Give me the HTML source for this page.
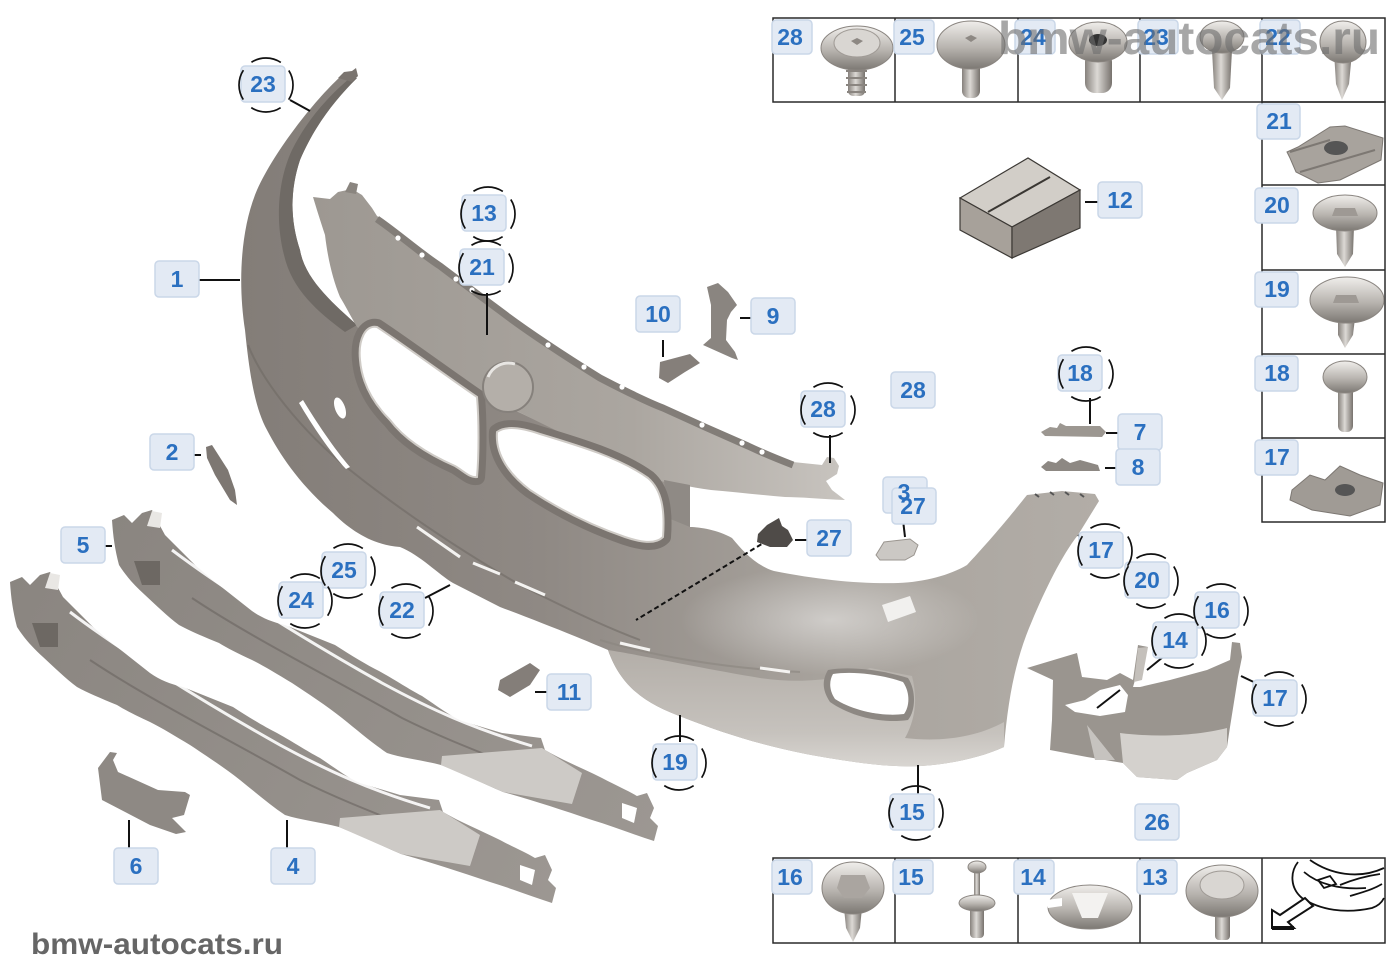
<!DOCTYPE html>
<html><head><meta charset="utf-8"><style>
html,body{margin:0;padding:0;background:#fff;}
svg{display:block}
.lb rect{fill:#e3eaf4;stroke:#cad7e8;stroke-width:1.5}
.lb text{font-family:"Liberation Sans",sans-serif;font-weight:700;font-size:23px;fill:#2b70c0;text-anchor:middle}
.ln{stroke:#111;stroke-width:2;fill:none}
.dc{fill:none;stroke:#111;stroke-width:1.7;stroke-dasharray:31 11.4;stroke-dashoffset:15.5}
.cell{fill:none;stroke:#2a2a2a;stroke-width:1.5}
</style></head><body>
<svg width="1400" height="980" viewBox="0 0 1400 980" xmlns="http://www.w3.org/2000/svg">
<defs>
<linearGradient id="gBody" gradientUnits="userSpaceOnUse" x1="240" y1="0" x2="1100" y2="0">
<stop offset="0" stop-color="#837d78"/><stop offset=".35" stop-color="#8f8984"/><stop offset=".7" stop-color="#a9a49e"/><stop offset="1" stop-color="#b2ada7"/></linearGradient>
<linearGradient id="gPanel" gradientUnits="userSpaceOnUse" x1="313" y1="0" x2="845" y2="0">
<stop offset="0" stop-color="#9d9892"/><stop offset=".6" stop-color="#aba6a0"/><stop offset="1" stop-color="#c8c4bf"/></linearGradient>
<linearGradient id="gLip" gradientUnits="userSpaceOnUse" x1="0" y1="650" x2="0" y2="768">
<stop offset="0" stop-color="#b3aea8"/><stop offset=".7" stop-color="#c6c2bd"/><stop offset="1" stop-color="#d9d6d2"/></linearGradient>
<linearGradient id="gCar" gradientUnits="userSpaceOnUse" x1="0" y1="580" x2="550" y2="900">
<stop offset="0" stop-color="#8a8580"/><stop offset="1" stop-color="#9c9792"/></linearGradient>
<radialGradient id="gHi" cx="0.5" cy="0.5" r="0.5"><stop offset="0" stop-color="#fff" stop-opacity=".45"/><stop offset="1" stop-color="#fff" stop-opacity="0"/></radialGradient>
<linearGradient id="met" x1="0" y1="0" x2="0" y2="1"><stop offset="0" stop-color="#f0eeeb"/><stop offset=".55" stop-color="#b8b4af"/><stop offset="1" stop-color="#7c7873"/></linearGradient>
<linearGradient id="shk" x1="0" y1="0" x2="1" y2="0"><stop offset="0" stop-color="#86817c"/><stop offset=".45" stop-color="#dcd9d5"/><stop offset="1" stop-color="#77726d"/></linearGradient>
</defs>
<rect width="1400" height="980" fill="#fff"/>

<!-- ========== MAIN BUMPER ========== -->
<path d="M340,77 C315,100 275,150 257,190 C240,230 238,285 245,330 C250,380 256,410 267,430 C280,455 300,485 333,513 C350,530 372,545 400,547 C420,555 438,574 453,583 L500,607 C540,622 580,638 608,650 C622,690 650,705 682,717 C720,732 760,745 806,754 C850,762 890,768 921,766 C950,764 980,758 1004,747 C1008,700 1015,660 1032,621 C1045,590 1062,555 1078,535 L1099,501 L1095,494 L1062,491 L1027,495 C1015,510 995,535 967,565 C950,575 925,582 898,583 C860,584 820,580 774,571 C755,565 742,550 732,538 C718,530 700,527 690,527 L689,490 L655,478 L600,450 L450,380 L357,325 C335,305 305,280 300,250 C290,220 290,190 300,160 C315,125 335,100 357,78 Z" fill="url(#gBody)"/>
<path d="M357,78 C335,100 315,125 300,160 C290,190 290,220 300,250 C305,280 335,305 357,325 L345,332 C318,312 292,290 284,255 C275,220 278,180 292,150 C308,118 330,95 350,78 Z" fill="#6f6a65"/>
<path d="M338,78 L344,72 L352,71 L356,68 L358,76 L352,82 Z" fill="#7a746f"/>
<path d="M608,650 C640,655 700,668 760,678 C800,684 840,680 870,668 L912,676 C918,700 915,720 905,738 C940,742 975,738 1004,722 L1004,747 C980,758 950,764 921,766 C890,768 850,762 806,754 C760,745 720,732 682,717 C650,705 622,690 608,650 Z" fill="url(#gLip)"/>
<ellipse cx="830" cy="620" rx="150" ry="55" fill="url(#gHi)"/>
<path d="M248,345 C262,380 300,430 350,470 C400,510 460,550 520,585 C560,605 600,625 640,640" fill="none" stroke="#6d6863" stroke-width="2" opacity=".55"/>
<path d="M600,640 C650,655 720,668 800,672" fill="none" stroke="#8a857f" stroke-width="2" opacity=".6"/>
<path d="M303,400 C315,420 335,450 350,467 L346,469 C330,452 312,425 299,403 Z" fill="#fff"/>
<ellipse cx="340" cy="408" rx="5" ry="11" transform="rotate(-20 340 408)" fill="#fff"/>
<path d="M417,527 L460,557 M473,563 L500,574 M515,582 L545,595 M620,643 L650,650 M760,668 L790,672" stroke="#f4f3f1" stroke-width="3" fill="none"/>
<path d="M828,670 C850,666 882,670 908,678 C916,690 916,710 908,720 C880,724 850,716 830,702 C822,690 822,680 828,670 Z" fill="#8d8883"/>
<path d="M833,674 C852,671 880,674 903,682 C910,692 910,706 904,714 C880,717 852,710 835,699 C829,690 829,681 833,674 Z" fill="#fff"/>
<path d="M882,605 L910,596 L916,612 L888,622 Z" fill="#f1f0ee"/>
<path d="M1035,494 l4,3 M1050,492 l4,3 M1065,492 l4,3 M1080,494 l4,3" stroke="#555" stroke-width="2"/>

<!-- ========== UPPER PANEL ========== -->
<path d="M313,197 L330,199 L338,192 L352,189 L362,195 L372,208 L377,216 C400,232 420,250 440,263 C465,282 487,298 507,313 C530,330 560,350 600,375 C625,388 645,398 663,405 C700,422 725,433 748,443 C765,451 780,457 793,462 L822,465 L827,457 L834,458 L839,466 L837,474 L826,481 L832,490 L845,500 C820,499 800,497 785,497 C760,495 735,492 711,490 C690,487 670,483 655,480 L600,452 L500,403 L400,356 L357,327 C350,315 345,305 340,297 C333,280 328,260 325,235 C320,220 316,207 313,197 Z" fill="url(#gPanel)"/>
<path d="M377,219 C400,235 420,253 440,266 C465,285 487,301 507,316 C530,333 560,353 600,378 C625,391 645,401 663,408 C700,425 725,436 748,446 C765,454 780,460 793,465" fill="none" stroke="#827d78" stroke-width="7"/>
<g fill="#fff"><circle cx="398" cy="238" r="2.6"/><circle cx="422" cy="255" r="2.6"/><circle cx="456" cy="279" r="2.6"/><circle cx="472" cy="290" r="2.6"/><circle cx="548" cy="345" r="2.6"/><circle cx="584" cy="367" r="2.6"/><circle cx="622" cy="387" r="2.6"/><circle cx="702" cy="425" r="2.6"/><circle cx="742" cy="443" r="2.6"/><circle cx="762" cy="452" r="2.6"/></g>
<path d="M345,192 L350,182 L358,184 L356,194 Z" fill="#8a857f"/>
<path d="M664,480 L690,485 L690,527 L668,518 Z" fill="#8f8a85"/>
<path d="M377,327 C400,342 445,375 477,397 C479,420 479,455 477,477 C470,478 465,472 455,466 C430,455 405,440 390,420 C375,405 362,385 360,360 C358,340 365,325 377,327 Z" fill="none" stroke="#7b7570" stroke-width="16" stroke-linejoin="round"/>
<path d="M377,327 C400,342 445,375 477,397 C479,420 479,455 477,477 C470,478 465,472 455,466 C430,455 405,440 390,420 C375,405 362,385 360,360 C358,340 365,325 377,327 Z" fill="#fff" stroke="#cfcbc6" stroke-width="2"/>
<path d="M497,432 C505,426 520,427 540,434 C580,446 620,458 648,478 C662,490 665,510 663,537 C655,545 640,542 625,537 C590,525 560,510 530,490 C510,475 495,455 497,432 Z" fill="none" stroke="#7b7570" stroke-width="16" stroke-linejoin="round"/>
<path d="M497,432 C505,426 520,427 540,434 C580,446 620,458 648,478 C662,490 665,510 663,537 C655,545 640,542 625,537 C590,525 560,510 530,490 C510,475 495,455 497,432 Z" fill="#fff" stroke="#cfcbc6" stroke-width="2"/>
<circle cx="508" cy="387" r="25" fill="#b4afa9" stroke="#86817c" stroke-width="2"/>
<path d="M488,377 A22,22 0 0 1 515,364" fill="none" stroke="#e8e6e3" stroke-width="3"/>
<path d="M775,536 L636,620" stroke="#111" stroke-width="2" stroke-dasharray="5 3"/>

<!-- ========== SMALL PARTS ========== -->
<path d="M206,447 L212,445 L228,470 L235,490 L237,505 L230,500 L215,475 L207,458 Z" fill="#7d7772"/>
<path d="M707,287 L718,283 L728,292 L737,305 L731,312 L727,320 L726,340 L735,352 L738,360 L732,358 L703,345 L711,338 L711,305 Z" fill="#8a8580"/>
<path d="M660,362 L675,358 L690,354 L700,363 L685,372 L668,383 L659,378 Z" fill="#857f7a"/>
<path d="M1041,432 L1050,427 L1057,428 L1060,423 L1066,426 L1100,426 L1106,432 L1102,437 L1045,436 Z" fill="#9c9791"/>
<path d="M1041,467 L1048,461 L1056,463 L1062,458 L1070,463 L1080,460 L1098,465 L1100,471 L1046,471 Z" fill="#8d8883"/>
<path d="M758,534 L767,525 L779,518 L782,526 L788,530 L793,540 L787,547 L770,547 L757,542 Z" fill="#4f4b48"/>
<path d="M876,555 L884,542 L910,539 L918,545 L914,555 L905,560 L880,560 Z" fill="#cbc8c4" stroke="#9a958f"/>
<path d="M500,680 L530,663 L540,670 L530,685 L510,697 L498,690 Z" fill="#847e79"/>
<path d="M960,198 L1028,158 L1080,190 L1012,227 Z" fill="#d2cec8" stroke="#3c3935" stroke-width="1.2"/>
<path d="M960,198 L1012,227 L1012,258 L960,230 Z" fill="#a7a19a" stroke="#3c3935" stroke-width="1.2"/>
<path d="M1012,227 L1080,190 L1080,228 L1012,258 Z" fill="#7e7872" stroke="#3c3935" stroke-width="1.2"/>
<path d="M988,212 L1050,177" stroke="#3a3733" stroke-width="2"/>
<path d="M98,768 L110,752 L117,753 L113,760 L118,772 L158,790 L185,792 L190,795 L184,815 L172,818 L186,832 L176,834 L150,825 L102,800 Z" fill="#8e8984"/>

<!-- ========== CARRIERS ========== -->
<g id="carrier">
<path d="M10,582 L22,577 L30,585 L40,575 L50,572 L57,586 L63,597 L93,627 C105,637 110,642 117,647 L150,673 C160,680 170,684 183,687 L233,707 C250,718 265,727 277,733 C295,743 305,750 320,758 C335,768 348,778 360,783 L400,795 L439,800 L443,812 C460,822 480,830 500,840 C515,848 525,852 535,858 L545,855 L552,870 L548,880 L556,888 L552,903 C530,896 510,888 490,882 C460,872 430,862 401,854 C380,845 360,835 339,827 C320,822 300,820 285,815 C270,805 255,792 240,780 C225,768 205,755 190,745 C175,736 162,728 150,722 C135,715 125,710 117,705 C100,698 88,693 77,687 C65,678 55,668 43,657 C32,647 24,638 17,627 C13,612 11,598 10,582 Z" fill="url(#gCar)"/>
<path d="M32,623 L58,623 L58,647 L40,647 Z" fill="#6d6863"/>
<path d="M45,588 L50,573 L60,575 L58,590 Z" fill="#e9e7e4"/>
<path d="M70,612 C120,650 200,700 280,745 C330,772 370,790 430,808" fill="none" stroke="#fff" stroke-width="3" opacity=".9"/>
<path d="M90,660 C150,700 230,740 300,780 C340,800 380,815 430,835" fill="none" stroke="#6f6a65" stroke-width="2" opacity=".7"/>
<path d="M340,818 L440,810 L480,835 L470,866 L401,854 L339,827 Z" fill="#cdcac6"/>
<path d="M520,865 L535,870 L532,885 L520,880 Z" fill="#fff"/>
</g>
<use href="#carrier" transform="translate(102,-62)"/>

<!-- ========== WHEEL ARCH BRACKET ========== -->
<path d="M1027,668 L1077,653 L1082,677 L1107,680 L1120,673 L1133,680 L1138,645 L1148,647 L1140,663 L1133,687 L1140,687 L1170,680 L1207,670 L1230,660 L1232,642 L1240,643 L1242,657 L1238,677 L1230,727 L1227,747 L1217,760 L1187,773 L1177,780 L1137,777 L1123,763 L1087,757 L1050,750 L1052,720 L1053,680 Z" fill="#9a958f"/>
<path d="M1120,733 C1160,738 1200,735 1227,728 L1227,747 L1217,760 L1187,773 L1177,780 L1137,777 L1123,763 Z" fill="#d4d1cd"/>
<path d="M1065,705 L1085,700 L1100,690 L1120,685 L1128,695 L1125,712 L1100,716 L1075,712 Z" fill="#fff"/>
<path d="M1087,725 L1095,760 L1115,760 Z" fill="#c6c3bf"/>
<path d="M1138,648 L1148,647 L1142,680 L1134,682 Z" fill="#c4c0bb"/>

<!-- ========== LEADER LINES ========== -->
<g class="ln">
<path d="M290,100 L310,111"/>
<path d="M180,280 L240,280"/>
<path d="M487,293 L487,335"/>
<path d="M663,340 L663,357"/>
<path d="M740,318 L757,318"/>
<path d="M830,435 L830,463"/>
<path d="M1090,398 L1090,424"/>
<path d="M1106,433 L1124,433"/>
<path d="M1105,468 L1122,468"/>
<path d="M1085,202 L1103,202"/>
<path d="M181,455 L201,455"/>
<path d="M903,520 L905,537"/>
<path d="M795,540 L815,540"/>
<path d="M90,546 L112,546"/>
<path d="M425,598 L450,585"/>
<path d="M1078,535 L1092,545"/>
<path d="M1241,676 L1262,686"/>
<path d="M1147,670 L1163,657"/>
<path d="M1097,708 L1120,690"/>
<path d="M535,692 L550,692"/>
<path d="M680,715 L680,742"/>
<path d="M918,765 L918,795"/>
<path d="M129,820 L129,848"/>
<path d="M287,820 L287,848"/>
</g>

<!-- ========== TABLES ========== -->
<rect x="773" y="18" width="612" height="84" class="cell"/>
<path d="M895,18 V102 M1018,18 V102 M1140,18 V102 M1262,18 V102" class="cell"/>
<rect x="1262" y="102" width="123" height="420" class="cell"/>
<path d="M1262,185 H1385 M1262,270 H1385 M1262,354 H1385 M1262,438 H1385" class="cell"/>
<rect x="773" y="858" width="612" height="85" class="cell"/>
<path d="M895,858 V943 M1018,858 V943 M1140,858 V943 M1262,858 V943" class="cell"/>

<rect x="848" y="62" width="17" height="34" rx="5" fill="url(#shk)"/>
<path d="M846,71 h21 M846,78 h21 M846,85 h21 M847,92 h19" stroke="#8a8580" stroke-width="2"/>
<ellipse cx="857" cy="48" rx="36" ry="22" fill="url(#met)" stroke="#8a8580"/>
<ellipse cx="857" cy="43" rx="23" ry="14" fill="#d9d6d2" stroke="#a09b96"/>
<path d="M851,41 l6,-3 l6,3 l-6,4z" fill="#8d8883"/>
<rect x="962" y="60" width="18" height="38" rx="7" fill="url(#shk)"/>
<ellipse cx="971" cy="45" rx="34" ry="24" fill="url(#met)" stroke="#8a8580"/>
<path d="M965,38 l6,-3 l6,3 l-6,4z" fill="#8d8883"/>
<rect x="1085" y="52" width="27" height="41" rx="10" fill="url(#shk)"/>
<ellipse cx="1098" cy="42" rx="29" ry="20" fill="url(#met)" stroke="#8a8580"/>
<ellipse cx="1098" cy="40" rx="9" ry="6" fill="#333"/>
<path d="M1212,50 L1232,50 L1230,88 L1222,100 L1214,88 Z" fill="url(#shk)"/>
<ellipse cx="1222" cy="37" rx="22" ry="16" fill="url(#met)" stroke="#8a8580"/>
<path d="M1334,52 L1352,52 L1349,84 L1342,100 L1336,84 Z" fill="url(#shk)"/>
<ellipse cx="1343" cy="42" rx="23" ry="21" fill="url(#met)" stroke="#8a8580"/>

<path d="M1287,152 L1298,147 L1330,127 L1345,126 L1383,138 L1381,160 L1340,180 L1318,183 L1296,172 L1290,158 Z" fill="#a8a39d" stroke="#7d7873"/>
<ellipse cx="1336" cy="148" rx="12" ry="7" fill="#555"/>
<path d="M1290,152 L1330,140 M1300,172 L1375,150" stroke="#7d7873" stroke-width="2"/>
<path d="M1336,226 L1354,226 L1353,254 L1345,267 L1337,254 Z" fill="url(#shk)"/>
<ellipse cx="1345" cy="213" rx="32" ry="18" fill="url(#met)" stroke="#8a8580"/>
<path d="M1335,208 L1355,208 L1358,216 L1332,216 Z" fill="#9e9994"/>
<path d="M1338,318 L1355,318 L1353,335 L1345,348 L1338,335 Z" fill="url(#shk)"/>
<ellipse cx="1347" cy="300" rx="37" ry="23" fill="url(#met)" stroke="#8a8580"/>
<path d="M1336,295 L1356,295 L1359,303 L1333,303 Z" fill="#9e9994"/>
<rect x="1338" y="386" width="15" height="46" rx="6" fill="url(#shk)"/>
<ellipse cx="1345" cy="377" rx="22" ry="16" fill="url(#met)" stroke="#8a8580"/>
<path d="M1292,490 L1310,475 L1325,480 L1340,466 L1360,475 L1383,483 L1380,505 L1350,516 L1312,510 L1290,500 Z" fill="#a09b95" stroke="#7d7873"/>
<ellipse cx="1345" cy="490" rx="10" ry="6" fill="#555"/>

<path d="M844,908 L862,908 L860,928 L853,942 L846,928 Z" fill="url(#shk)"/>
<ellipse cx="853" cy="888" rx="31" ry="26" fill="url(#met)" stroke="#8a8580"/>
<path d="M841,875 L865,875 L870,888 L862,898 L844,898 L837,888 Z" fill="#aaa5a0"/>
<rect x="974" y="866" width="6" height="32" fill="url(#shk)"/>
<ellipse cx="977" cy="867" rx="9" ry="6" fill="url(#met)" stroke="#8a8580"/>
<rect x="970" y="906" width="14" height="32" rx="4" fill="url(#shk)"/>
<ellipse cx="977" cy="903" rx="18" ry="8" fill="url(#met)" stroke="#8a8580"/>
<ellipse cx="1090" cy="907" rx="42" ry="22" fill="url(#met)" stroke="#8a8580"/>
<path d="M1072,893 L1108,893 L1098,918 L1082,918 Z" fill="#f3f2f0"/>
<path d="M1046,900 L1062,898 L1062,906 L1048,908 Z" fill="#fff"/>
<rect x="1215" y="912" width="15" height="28" rx="4" fill="url(#shk)"/>
<ellipse cx="1222" cy="891" rx="36" ry="26" fill="url(#met)" stroke="#8a8580"/>
<ellipse cx="1222" cy="885" rx="22" ry="14" fill="#d9d6d2" stroke="#a09b96"/>

<g fill="none" stroke="#111" stroke-width="1.8">
<path d="M1298,862 C1290,872 1290,888 1302,898 C1320,910 1345,914 1372,908 C1378,906 1382,902 1384,898"/>
<path d="M1310,860 C1330,874 1358,880 1384,868"/>
<path d="M1304,872 C1318,884 1340,890 1366,888"/>
<path d="M1318,880 L1330,876 L1336,884 L1324,888 Z"/>
<path d="M1340,885 C1352,880 1366,876 1380,874"/>
<path d="M1350,896 C1360,893 1372,890 1382,884"/>
</g>
<path d="M1272,928 L1272,910 L1280,915 L1305,898 L1313,906 L1288,922 L1294,928 Z" fill="#fff" stroke="#111" stroke-width="2"/>
<path d="M1272,928 L1294,928" stroke="#111" stroke-width="4"/>

<!-- ========== LABELS ========== -->
<g class="lb">
<rect x="241" y="66" width="44" height="36" rx="4"/><text x="263" y="92">23</text>
<rect x="155" y="261" width="44" height="36" rx="4"/><text x="177" y="287">1</text>
<rect x="462" y="195" width="44" height="36" rx="4"/><text x="484" y="221">13</text>
<rect x="460" y="249" width="44" height="36" rx="4"/><text x="482" y="275">21</text>
<rect x="636" y="296" width="44" height="36" rx="4"/><text x="658" y="322">10</text>
<rect x="751" y="298" width="44" height="36" rx="4"/><text x="773" y="324">9</text>
<rect x="891" y="372" width="44" height="36" rx="4"/><text x="913" y="398">28</text>
<rect x="801" y="391" width="44" height="36" rx="4"/><text x="823" y="417">28</text>
<rect x="1058" y="355" width="44" height="36" rx="4"/><text x="1080" y="381">18</text>
<rect x="1118" y="414" width="44" height="36" rx="4"/><text x="1140" y="440">7</text>
<rect x="1116" y="449" width="44" height="36" rx="4"/><text x="1138" y="475">8</text>
<rect x="1098" y="182" width="44" height="36" rx="4"/><text x="1120" y="208">12</text>
<rect x="150" y="434" width="44" height="36" rx="4"/><text x="172" y="460">2</text>
<rect x="883" y="477" width="44" height="36" rx="4"/>
<rect x="892" y="488" width="44" height="36" rx="4"/><text x="904" y="500">3</text><text x="913" y="514">27</text>
<rect x="807" y="520" width="44" height="36" rx="4"/><text x="829" y="546">27</text>
<rect x="61" y="527" width="44" height="36" rx="4"/><text x="83" y="553">5</text>
<rect x="322" y="552" width="44" height="36" rx="4"/><text x="344" y="578">25</text>
<rect x="279" y="582" width="44" height="36" rx="4"/><text x="301" y="608">24</text>
<rect x="380" y="592" width="44" height="36" rx="4"/><text x="402" y="618">22</text>
<rect x="1079" y="532" width="44" height="36" rx="4"/><text x="1101" y="558">17</text>
<rect x="1125" y="562" width="44" height="36" rx="4"/><text x="1147" y="588">20</text>
<rect x="1195" y="592" width="44" height="36" rx="4"/><text x="1217" y="618">16</text>
<rect x="1153" y="622" width="44" height="36" rx="4"/><text x="1175" y="648">14</text>
<rect x="1253" y="680" width="44" height="36" rx="4"/><text x="1275" y="706">17</text>
<rect x="547" y="674" width="44" height="36" rx="4"/><text x="569" y="700">11</text>
<rect x="653" y="744" width="44" height="36" rx="4"/><text x="675" y="770">19</text>
<rect x="890" y="794" width="44" height="36" rx="4"/><text x="912" y="820">15</text>
<rect x="1135" y="804" width="44" height="36" rx="4"/><text x="1157" y="830">26</text>
<rect x="114" y="848" width="44" height="36" rx="4"/><text x="136" y="874">6</text>
<rect x="271" y="848" width="44" height="36" rx="4"/><text x="293" y="874">4</text>
<rect x="772" y="20" width="40" height="34" rx="4"/><text x="790" y="45">28</text>
<rect x="894" y="20" width="40" height="34" rx="4"/><text x="912" y="45">25</text>
<rect x="1015" y="20" width="40" height="34" rx="4"/><text x="1033" y="45">24</text>
<rect x="1138" y="20" width="40" height="34" rx="4"/><text x="1156" y="45">23</text>
<rect x="1260" y="20" width="40" height="34" rx="4"/><text x="1278" y="45">22</text>
<rect x="1257" y="104" width="43" height="35" rx="4"/><text x="1279" y="129">21</text>
<rect x="1255" y="188" width="43" height="35" rx="4"/><text x="1277" y="213">20</text>
<rect x="1255" y="272" width="43" height="35" rx="4"/><text x="1277" y="297">19</text>
<rect x="1255" y="356" width="43" height="35" rx="4"/><text x="1277" y="381">18</text>
<rect x="1255" y="440" width="43" height="35" rx="4"/><text x="1277" y="465">17</text>
<rect x="772" y="860" width="40" height="34" rx="4"/><text x="790" y="885">16</text>
<rect x="893" y="860" width="40" height="34" rx="4"/><text x="911" y="885">15</text>
<rect x="1014" y="860" width="40" height="34" rx="4"/><text x="1033" y="885">14</text>
<rect x="1137" y="860" width="40" height="34" rx="4"/><text x="1155" y="885">13</text>
</g>

<!-- ========== DASHED CIRCLES (on top of boxes) ========== -->
<g class="dc">
<circle cx="266" cy="85" r="27"/>
<circle cx="488" cy="214" r="27"/>
<circle cx="486" cy="268" r="27"/>
<circle cx="828" cy="410" r="27"/>
<circle cx="1086" cy="374" r="27"/>
<circle cx="348" cy="571" r="27"/>
<circle cx="305" cy="601" r="27"/>
<circle cx="406" cy="611" r="27"/>
<circle cx="1105" cy="551" r="27"/>
<circle cx="1151" cy="581" r="27"/>
<circle cx="1221" cy="611" r="27"/>
<circle cx="1179" cy="641" r="27"/>
<circle cx="1279" cy="699" r="27"/>
<circle cx="679" cy="763" r="27"/>
<circle cx="916" cy="813" r="27"/>
</g>

<text x="998" y="54" font-family="Liberation Sans, sans-serif" font-weight="700" font-size="46" fill="#6e6e6e" opacity=".6" textLength="382" lengthAdjust="spacingAndGlyphs">bmw-autocats.ru</text>
<text x="31" y="954" font-family="Liberation Sans, sans-serif" font-weight="700" font-size="30" fill="#666" textLength="252" lengthAdjust="spacingAndGlyphs">bmw-autocats.ru</text>
</svg>
</body></html>
